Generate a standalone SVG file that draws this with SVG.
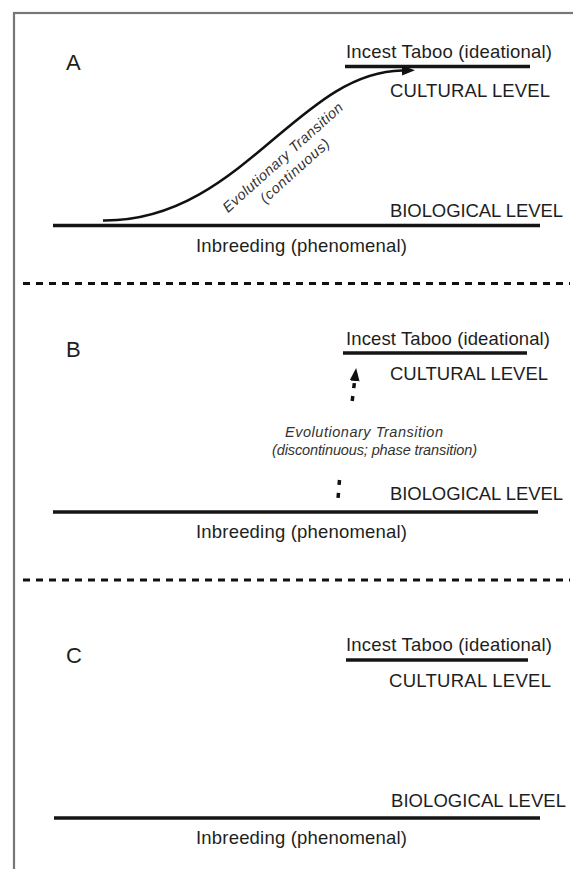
<svg xmlns="http://www.w3.org/2000/svg" width="573" height="869" viewBox="0 0 573 869">
<defs>
<marker id="ah" markerUnits="userSpaceOnUse" markerWidth="14" markerHeight="12" refX="0" refY="5" orient="auto">
<path d="M0,0 L13,5 L0,10 z" fill="#111"/>
</marker>
<style>
.lbl{font-family:"Liberation Sans",Arial,sans-serif;font-size:18.5px;fill:#1e1e1e}
.pan{font-family:"Liberation Sans",Arial,sans-serif;font-size:22px;fill:#1e1e1e}
.it{font-family:"Liberation Sans",Arial,sans-serif;font-size:14.5px;font-style:italic;fill:#333}
.lvl{stroke:#151515;stroke-width:3.5;fill:none}
.sep{stroke:#111;stroke-width:3;stroke-dasharray:7 6;fill:none}
.con{stroke:#111;stroke-width:2.5;fill:none}
.dash{stroke:#111;stroke-width:3.5;fill:none;stroke-dasharray:5 8}
</style>
</defs>
<rect x="14" y="13" width="600" height="900" fill="#fff" stroke="#777" stroke-width="2.2"/>
<g id="separators">
<line class="sep" x1="23" y1="283.5" x2="570" y2="283.5"/>
<line class="sep" x1="23" y1="580" x2="570" y2="580"/>
</g>
<g id="panelA">
<text class="pan" x="66" y="70">A</text>
<g id="A-cultural">
<text class="lbl" x="346" y="58" textLength="206">Incest Taboo (ideational)</text>
<line class="lvl" x1="345" y1="66.5" x2="530" y2="66.5"/>
<text class="lbl" x="390" y="97" textLength="160">CULTURAL LEVEL</text>
</g>
<g id="A-biological">
<text class="lbl" x="390" y="217" textLength="173">BIOLOGICAL LEVEL</text>
<line class="lvl" x1="53" y1="225.5" x2="540" y2="225.5"/>
<text class="lbl" x="196" y="252" textLength="211">Inbreeding (phenomenal)</text>
</g>
</g>
<g id="panelB">
<text class="pan" x="66" y="357">B</text>
<g id="B-cultural">
<text class="lbl" x="346" y="345" textLength="204">Incest Taboo (ideational)</text>
<line class="lvl" x1="343" y1="353" x2="527" y2="353"/>
<text class="lbl" x="390" y="380" textLength="158">CULTURAL LEVEL</text>
</g>
<g id="B-biological">
<text class="lbl" x="390" y="500" textLength="173">BIOLOGICAL LEVEL</text>
<line class="lvl" x1="53" y1="512" x2="538" y2="512"/>
<text class="lbl" x="196" y="538" textLength="211">Inbreeding (phenomenal)</text>
</g>
</g>
<g id="panelC">
<text class="pan" x="66" y="663">C</text>
<g id="C-cultural">
<text class="lbl" x="346" y="651" textLength="206">Incest Taboo (ideational)</text>
<line class="lvl" x1="346" y1="660" x2="528" y2="660"/>
<text class="lbl" x="389" y="687" textLength="162">CULTURAL LEVEL</text>
</g>
<g id="C-biological">
<text class="lbl" x="391" y="807" textLength="175">BIOLOGICAL LEVEL</text>
<line class="lvl" x1="54" y1="818" x2="540" y2="818"/>
<text class="lbl" x="196" y="844" textLength="211">Inbreeding (phenomenal)</text>
</g>
</g>
<g id="connectors">
<path class="con" d="M103,220.5 C240,222 298,72 402,70.5" marker-end="url(#ah)"/>
<text class="it" transform="translate(286,161) rotate(-42)" text-anchor="middle" textLength="156">Evolutionary Transition</text>
<text class="it" transform="translate(298,174.5) rotate(-42)" text-anchor="middle" textLength="88">(continuous)</text>
<path class="dash" d="M352.2,401 L354.6,381" marker-end="url(#ah)"/>
<path class="dash" d="M339.5,480 L338,499"/>
<text class="it" x="364" y="437" text-anchor="middle" textLength="158">Evolutionary Transition</text>
<text class="it" x="374.5" y="455" text-anchor="middle" textLength="205">(discontinuous; phase transition)</text>
</g>
</svg>
